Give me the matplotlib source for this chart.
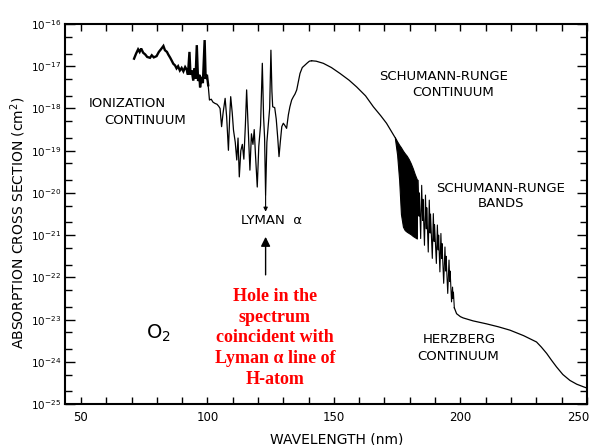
import matplotlib
matplotlib.use('Agg')
import matplotlib.pyplot as plt
from matplotlib.ticker import FixedLocator, MultipleLocator, NullFormatter
import numpy as np

# O2 absorption cross section, stored as log10(sigma / cm^2) against wavelength (nm)

# ionization continuum (heavy trace)
ion_wl = [71.0, 71.8, 72.6, 73.2, 73.8, 74.6, 75.4, 76.2, 77.3, 78.0, 78.8, 79.9,
          80.8, 81.6, 82.6, 83.2, 84.0, 84.5, 85.3, 86.0, 86.5, 87.2, 87.8, 88.4,
          89.1, 89.8, 90.5, 91.2, 91.8, 92.3, 92.9, 93.3, 93.8, 94.4, 94.9, 95.3,
          95.8, 96.3, 96.8, 97.1, 97.6, 98.2, 98.9, 99.3, 99.8, 100.3]
ion_lg = [-16.82, -16.70, -16.60, -16.66, -16.58, -16.68, -16.72, -16.78, -16.80, -16.74, -16.79, -16.76,
          -16.66, -16.60, -16.52, -16.62, -16.66, -16.72, -16.80, -16.88, -16.94, -16.98, -17.05, -17.00,
          -17.10, -17.04, -17.12, -17.02, -17.08, -17.20, -16.66, -17.20, -17.10, -17.34, -17.05, -17.30,
          -16.50, -17.35, -17.20, -17.50, -17.25, -17.40, -16.38, -17.30, -17.20, -17.45]

# predissociation / Rydberg structure up to the Schumann-Runge peak
ryd_wl = [100.3, 100.8, 101.5, 102.2, 103.0, 103.8, 104.5, 105.0, 105.6, 106.2, 107.0, 107.6,
          108.3, 108.8, 109.2, 109.8, 110.3, 111.0, 111.6, 112.1, 112.6, 113.2, 113.8, 114.4,
          115.0, 115.5, 116.0, 116.8, 117.4, 118.0, 118.5, 119.0, 119.7, 120.3, 121.0, 121.7,
          122.2, 122.6, 123.0, 123.5, 124.0, 124.6, 125.1, 125.5, 125.8, 126.6, 127.2, 127.8,
          128.3, 128.8, 129.4, 130.0, 130.6, 131.3, 132.0, 132.6, 133.3, 134.0, 134.6, 135.3,
          136.0, 136.6, 137.5, 138.6, 139.5, 140.3, 141.2]
ryd_lg = [-17.45, -17.80, -17.78, -17.85, -17.88, -17.90, -17.95, -18.00, -18.43, -18.10, -17.76, -18.20,
          -18.99, -18.20, -17.72, -18.10, -18.51, -18.80, -19.22, -18.70, -19.62, -19.00, -18.85, -19.20,
          -18.40, -17.56, -18.30, -19.46, -18.60, -18.85, -18.50, -19.10, -19.86, -18.90, -18.40, -16.93,
          -18.20, -18.70, -20.05, -18.80, -18.43, -18.00, -16.62, -17.60, -17.96, -17.98, -18.25, -18.70,
          -19.14, -18.80, -18.43, -18.35, -18.40, -18.47, -18.15, -17.96, -17.80, -17.72, -17.66, -17.56,
          -17.35, -17.17, -17.03, -16.97, -16.92, -16.88, -16.87]

# Schumann-Runge continuum
src_wl = [141.2, 143.0, 145.8, 149.0, 152.4, 156.0, 159.0, 162.5, 165.6, 168.5, 170.8, 172.5, 174.1]
src_lg = [-16.87, -16.88, -16.93, -17.03, -17.17, -17.33, -17.49, -17.70, -17.96, -18.17, -18.35, -18.52, -18.68]

# Schumann-Runge bands: unresolved short-wave part (envelope)
dense_wl = [174.1, 175.0, 175.8, 176.5, 177.3, 178.0, 178.8, 179.6, 180.4, 181.2, 182.0, 182.8]
dense_hi = [-18.68, -18.78, -18.86, -18.92, -19.00, -19.06, -19.12, -19.20, -19.30, -19.42, -19.56, -19.68]
dense_lo = [-18.70, -19.10, -19.70, -20.50, -20.80, -20.88, -20.92, -20.95, -20.98, -21.02, -21.05, -21.08]

# Schumann-Runge bands: resolved vibrational bands
srb_wl = [182.8,
          183.3, 183.65, 183.8, 184.3,
          184.7, 185.05, 185.2, 185.8,
          186.2, 186.55, 186.7, 187.3,
          187.7, 188.05, 188.2, 188.9,
          189.3, 189.65, 189.8, 190.5,
          190.9, 191.25, 191.4, 191.9,
          192.3, 192.6, 192.75, 193.4,
          193.9, 194.2, 194.35, 195.0,
          195.5, 195.8, 195.95, 196.5,
          196.9, 197.1, 197.25, 197.6]
srb_lg = [-21.05,
          -19.70, -20.55, -20.00, -21.08,
          -19.82, -20.65, -20.15, -21.24,
          -20.05, -20.85, -20.35, -21.40,
          -20.17, -20.95, -20.50, -21.55,
          -20.49, -21.15, -20.75, -21.67,
          -20.76, -21.35, -21.00, -21.87,
          -20.96, -21.55, -21.20, -22.14,
          -21.28, -21.85, -21.50, -22.38,
          -21.59, -22.10, -21.85, -22.58,
          -22.23, -22.50, -22.35, -22.72]

# Herzberg continuum
herz_wl = [197.6, 198.5, 200.0, 201.1, 205.0, 210.3, 215.0, 219.6, 225.0, 230.1, 232.0,
           234.1, 236.0, 238.0, 240.5, 243.3, 246.0, 248.6, 250.0]
herz_lg = [-22.72, -22.86, -22.93, -22.96, -23.03, -23.10, -23.17, -23.25, -23.38, -23.53, -23.65,
           -23.80, -23.96, -24.12, -24.30, -24.44, -24.53, -24.59, -24.62]

# Lyman alpha hole
lyman_wl = 123.0
lyman_lg = -20.05

# axis ticks
x_major = [50, 100, 150, 200, 250]
x_labels = ['50', '100', '150', '200', '']
y_decades = list(range(-25, -15))

fig = plt.figure(figsize=(5.91, 4.45), dpi=100)
ax = fig.add_axes([0.110, 0.092, 0.883, 0.854])
ax.set_yscale('log')

pw = lambda a: 10.0 ** np.asarray(a, dtype=float)

ax.plot(ion_wl, pw(ion_lg), color='k', lw=1.7, solid_joinstyle='miter')
ax.plot(ryd_wl, pw(ryd_lg), color='k', lw=0.9)
ax.plot(src_wl, pw(src_lg), color='k', lw=0.9)
ax.fill_between(dense_wl, pw(dense_lo), pw(dense_hi), color='k', lw=0.8)
ax.plot(srb_wl, pw(srb_lg), color='k', lw=0.8)
ax.plot(herz_wl, pw(herz_lg), color='k', lw=0.9)

ax.set_xlim(43.7, 250)
ax.set_ylim(1e-25, 1e-16)

# ticks all round, pointing in
ax.set_xticks(x_major, x_labels)
ax.xaxis.set_minor_locator(MultipleLocator(10))
ax.set_yticks(pw(y_decades), ['$10^{%d}$' % k for k in y_decades])
ax.yaxis.set_minor_locator(FixedLocator([m * 10.0 ** k for k in y_decades[:-1] for m in (2, 5)]))
ax.yaxis.set_minor_formatter(NullFormatter())
ax.tick_params(which='both', direction='in', top=True, right=True, width=1.0)
ax.tick_params(axis='x', which='both', length=5, pad=5, labelsize=8.5)
ax.tick_params(axis='y', which='major', length=7, pad=3, labelsize=7.5)
ax.tick_params(axis='y', which='minor', length=5)
for s in ax.spines.values():
    s.set_linewidth(1.5)

# last x label sits flush with the right edge
ax.annotate(str(x_major[-1]), xy=(x_major[-1], 0), xycoords=('data', 'axes fraction'),
            xytext=(2, -5), textcoords='offset points', ha='right', va='top', fontsize=8.5)

ax.set_xlabel('WAVELENGTH (nm)', fontsize=10, va='center')
ax.xaxis.set_label_coords(0.521, -0.092)
ax.set_ylabel('ABSORPTION CROSS SECTION (cm$^2$)', fontsize=10, va='center')
ax.yaxis.set_label_coords(-0.090, 0.476)

tx = dict(transform=ax.transAxes, ha='center', va='center', fontsize=9.5)
ax.text(0.119, 0.791, 'IONIZATION', **tx)
ax.text(0.153, 0.746, 'CONTINUUM', **tx)
ax.text(0.726, 0.861, 'SCHUMANN-RUNGE', **tx)
ax.text(0.743, 0.821, 'CONTINUUM', **tx)
ax.text(0.835, 0.568, 'SCHUMANN-RUNGE', **tx)
ax.text(0.835, 0.529, 'BANDS', **tx)
ax.text(0.755, 0.171, 'HERZBERG', **tx)
ax.text(0.753, 0.126, 'CONTINUUM', **tx)
ax.text(0.395, 0.484, 'LYMAN  α', **tx)
ax.text(0.178, 0.187, 'O$_2$', transform=ax.transAxes, ha='center', va='center', fontsize=14)

# small arrow down from the hole
ax.annotate('', xy=(lyman_wl, pw(lyman_lg)), xytext=(0, -12), textcoords='offset points',
            arrowprops=dict(arrowstyle='<|-', color='k', lw=0.8, mutation_scale=6, shrinkA=0, shrinkB=0))

# big arrow pointing up at the label
ax.annotate('', xy=(lyman_wl, 0.44), xytext=(lyman_wl, 0.34),
            xycoords=('data', 'axes fraction'), textcoords=('data', 'axes fraction'),
            arrowprops=dict(arrowstyle='-|>', color='k', lw=1.0, mutation_scale=14, shrinkA=0, shrinkB=0))

ax.text(0.402, 0.174, 'Hole in the\nspectrum\ncoincident with\nLyman α line of\nH-atom',
        transform=ax.transAxes, ha='center', va='center', multialignment='center',
        color='red', fontsize=13, fontweight='bold', family='Liberation Serif', linespacing=1.28)

fig.savefig('out.png', dpi=100)
